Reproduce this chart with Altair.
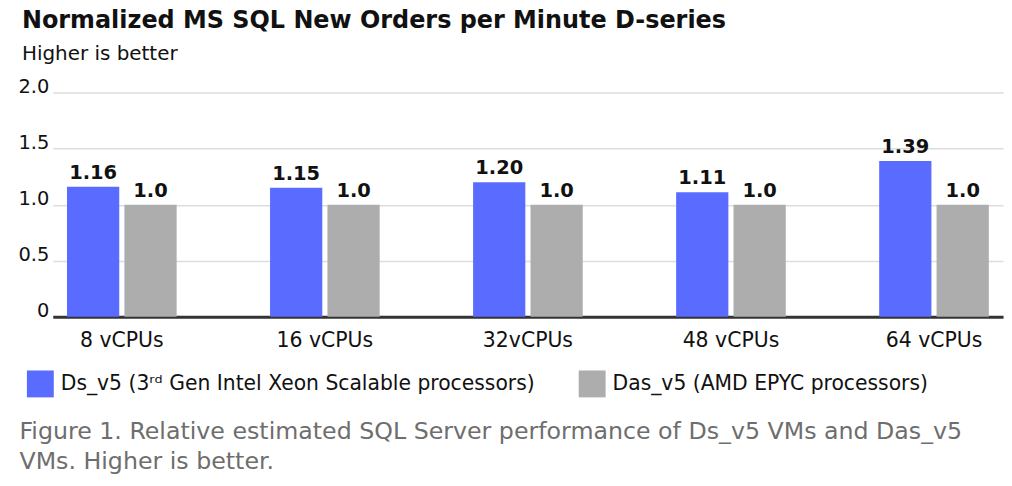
import altair as alt
import pandas as pd

categories = ["8 vCPUs", "16 vCPUs", "32vCPUs", "48 vCPUs", "64 vCPUs"]
series_names = ["Ds_v5 (3ʳᵈ Gen Intel Xeon Scalable processors)", "Das_v5 (AMD EPYC processors)"]
ds_values = [1.16, 1.15, 1.20, 1.11, 1.39]
das_values = [1.0, 1.0, 1.0, 1.0, 1.0]
ds_labels = ["1.16", "1.15", "1.20", "1.11", "1.39"]
das_labels = ["1.0", "1.0", "1.0", "1.0", "1.0"]
colors = ["#5A6BFF", "#ADADAD"]

rows = []
for c, v, l in zip(categories, ds_values, ds_labels):
    rows.append({"cat": c, "series": series_names[0], "value": v, "label": l})
for c, v, l in zip(categories, das_values, das_labels):
    rows.append({"cat": c, "series": series_names[1], "value": v, "label": l})
df = pd.DataFrame(rows)

FONT = "DejaVu Sans"

x = alt.X("cat:N", sort=categories,
          scale=alt.Scale(paddingInner=0.46, paddingOuter=0.07),
          axis=alt.Axis(
              title=["Figure 1. Relative estimated SQL Server performance of Ds_v5 VMs and Das_v5",
                     "VMs. Higher is better."],
              titleAnchor="start", titleAlign="left", titleBaseline="alphabetic",
              titleX=-34, titleY=122, titleFontSize=23.8, titleFontWeight="normal",
              titleColor="#6E6E6E", titleFont=FONT, titleLineHeight=30,
              labelAngle=0, labelFontSize=20.5, labelColor="#111111", labelFont=FONT,
              labelBaseline="alphabetic", labelPadding=30,
              ticks=False, domainColor="#333333", domainWidth=3,
              grid=False))
xoff = alt.XOffset("series:N", sort=series_names, scale=alt.Scale(paddingInner=0.09))
y = alt.Y("value:Q", scale=alt.Scale(domain=[0, 2]),
          axis=alt.Axis(title=None, values=[0, 0.5, 1.0, 1.5, 2.0],
                        labelExpr="datum.value == 0 ? '0' : format(datum.value, '.1f')",
                        labelFontSize=19.5, labelColor="#111111", labelFont=FONT,
                        labelBaseline="alphabetic", labelPadding=4,
                        ticks=False, domain=False, gridColor="#DDDDDD", gridWidth=1.5))
color = alt.Color("series:N", sort=series_names,
                  scale=alt.Scale(domain=series_names, range=colors),
                  legend=alt.Legend(title=None, orient="none", legendX=-26, legendY=279,
                                    direction="horizontal",
                                    symbolType="square", symbolSize=729,
                                    symbolStrokeWidth=0, symbolOpacity=1,
                                    labelFontSize=20.4, labelFont=FONT, labelColor="#111111",
                                    labelOffset=7, columnPadding=43, labelLimit=700))

bars = alt.Chart(df).mark_bar().encode(x=x, xOffset=xoff, y=y, color=color)
texts = alt.Chart(df).mark_text(fontSize=19.5, fontWeight="bold", font=FONT, dy=-8,
                                baseline="alphabetic", color="#111111").encode(
    x=alt.X("cat:N", sort=categories), xOffset=alt.XOffset("series:N", sort=series_names),
    y="value:Q", text="label:N")

chart = alt.layer(bars, texts).properties(
    width=954, height=225,
    padding={"left": 17, "right": 9, "top": 8, "bottom": 5},
    title=alt.TitleParams(
        "Normalized MS SQL New Orders per Minute D-series",
        subtitle="Higher is better", anchor="start", frame="group", dx=-31,
        fontSize=24, fontWeight="bold", font=FONT, color="#111111",
        subtitleFontSize=20, subtitleFont=FONT, subtitleColor="#111111",
        subtitlePadding=11, offset=13),
).configure_view(stroke=None)

chart.save("out.html", embed_options={"renderer": "svg", "actions": False})
